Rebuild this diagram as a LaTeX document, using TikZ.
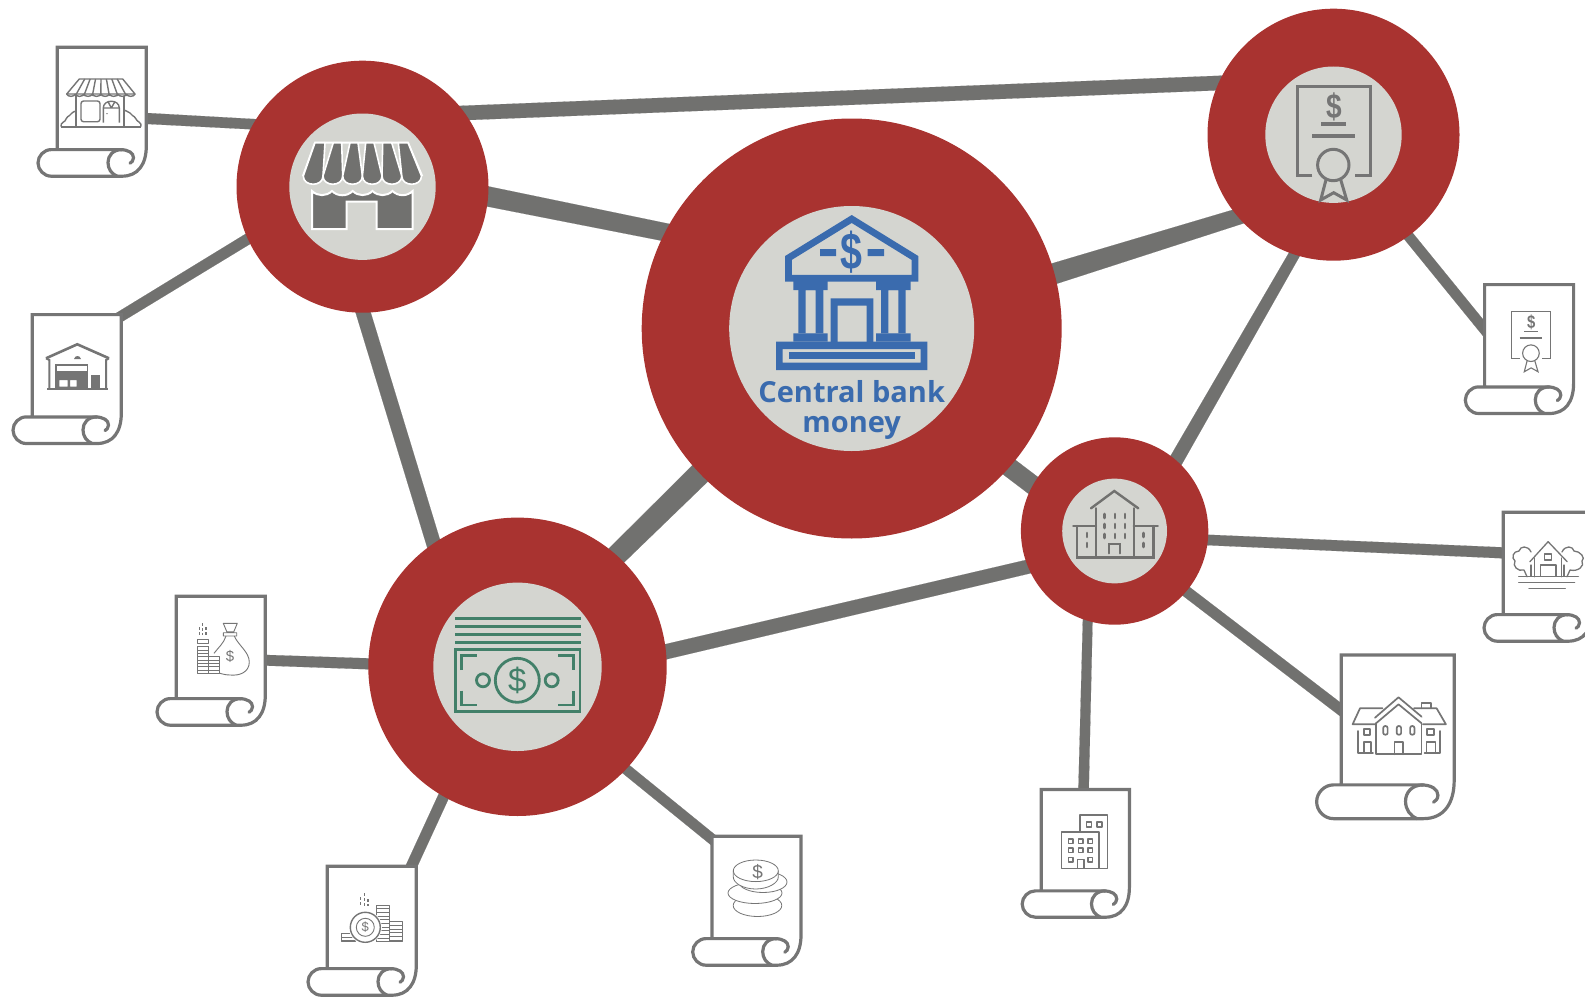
\documentclass[tikz,border=0pt]{standalone}
\usepackage{fontspec}
\setmainfont{Open Sans}
\newfontfamily\dlr{Liberation Sans}
\usetikzlibrary{calc,backgrounds}
\definecolor{nodered}{HTML}{A93330}
\definecolor{disc}{HTML}{D4D5D0}
\definecolor{linkgrey}{HTML}{71716F}
\definecolor{scrollgrey}{HTML}{757575}
\definecolor{bankblue}{HTML}{3A6BAE}
\definecolor{billgreen}{HTML}{428069}
\tikzset{
  x=1pt,y=-1pt,
  redcircle/.style={circle,fill=nodered,inner sep=0pt,minimum size=#1},
  disccircle/.style={circle,fill=disc,inner sep=0pt,minimum size=#1},
  pagebox/.style 2 args={rectangle,inner sep=0pt,anchor=north west,minimum width=#1,minimum height=#2},
  conn/.style={fill=linkgrey,draw=linkgrey,line width=0.1pt},
  scrollline/.style={draw=scrollgrey,line width=3.2pt,line join=miter,line cap=round},
  ico/.style={draw=scrollgrey,line width=1.4pt,line join=round,fill=none},
  icon/.style={draw=scrollgrey,line width=0.9pt,line join=round,fill=none},
  blue/.style={draw=bankblue,line width=6.8pt,line join=miter},
  bluefill/.style={fill=bankblue},
  grn/.style={draw=billgreen,line width=2.8pt,line join=miter},
}
\newcommand\link[6]{%
  \coordinate (LA) at ($(#1)+(#2)$);
  \coordinate (LB) at ($(#4)+(#5)$);
  \coordinate (LP) at ($(LA)!-6pt!(LB)$);
  \coordinate (LQ) at ($(LB)!-6pt!(LA)$);
  \draw[conn] ($(LP)!#3pt/2!90:(LQ)$) -- ($(LQ)!#6pt/2!-90:(LP)$) -- ($(LQ)!#6pt/2!90:(LP)$) -- ($(LP)!#3pt/2!-90:(LQ)$) -- cycle;
}
\newcommand\scroll[4]{% name,x,y,scale
  \node[pagebox={#4*90.7pt}{#4*102.3pt}] (#1) at (#2,#3) {};
  \begin{scope}[shift={(#2,#3)},scale=#4]
    \fill[white] (1.3,103.6) -- (1.3,1.3) -- (90.3,1.3) -- (90.3,100) .. controls (90.3,118.5) and (82,130.2) .. (66,130.2) -- (-4.7,130.2) .. controls (-12,130.2) and (-18,124) .. (-18,116.9) .. controls (-18,109.8) and (-12,103.6) .. (-4.7,103.6) -- cycle;
    \draw[scrollline] (1.3,103.6) -- (1.3,1.3) -- (90.3,1.3) -- (90.3,100) .. controls (90.3,118.5) and (82,130.2) .. (66,130.2) -- (-4.7,130.2) .. controls (-12,130.2) and (-18,124) .. (-18,116.9) .. controls (-18,109.8) and (-12,103.6) .. (-4.7,103.6) -- (64,103.6) .. controls (72.5,103.6) and (77.5,107) .. (77.5,111.8) .. controls (77.5,114.5) and (75.7,116.3) .. (74,117.3);
    \draw[scrollline] (66,103.6) .. controls (57,103.6) and (52,109.5) .. (52,116.5) .. controls (52,123) and (55.5,127.8) .. (61,130.2);
  \end{scope}
}
% certificate icon: origin = centre x, top y of frame
\newcommand\certicon[7]{% cx, top, scale, frame lw, line thick, name, font size
  \begin{scope}[shift={(#1,#2)},scale=#3]
    \draw[draw=scrollgrey,line width=#4pt] (-21.7,88.3) -- (-36.7,88.3) -- (-36.7,0) -- (36.7,0) -- (36.7,88.3) -- (21,88.3);
    \draw[draw=scrollgrey,line width=#5pt] (-13,37) -- (12,37);
    \draw[draw=scrollgrey,line width=#5pt] (-22,49.3) -- (21,49.3);
    \draw[draw=scrollgrey,line width=#4pt] (-0.7,78.3) circle[radius=15.7];
    \draw[draw=scrollgrey,line width=#4pt,line join=miter] (-8,93) -- (-13.3,113.3) -- (-0.3,106) -- (12.7,113.3) -- (6.7,93);
  \end{scope}
  \node[text=scrollgrey,inner sep=0pt,font=\dlr\bfseries\fontsize{#7}{#7}\selectfont] (#6) at (#1,{#2+#3*20}) {\scalebox{0.85}[1.05]{\$}};
}
\begin{document}
\begin{tikzpicture}
\useasboundingbox (0,0) rectangle (1585,998);
% hubs
\node[redcircle=420pt] (C) at (851.7,328.5) {};
\node[redcircle=252pt] (St) at (362.5,186.7) {};
\node[redcircle=252pt] (T) at (1333.5,134.7) {};
\node[redcircle=298.4pt] (M) at (517.5,666.8) {};
\node[redcircle=187.4pt] (B) at (1114.6,531) {};
\node[disccircle=245pt] (Cd) at (C) {};
\node[disccircle=146.4pt] (Std) at (St) {};
\node[disccircle=136.4pt] (Td) at (T) {};
\node[disccircle=168.4pt] (Md) at (M) {};
\node[disccircle=104.8pt] (Bd) at (B) {};
% scrolls
\scroll{s1}{56}{46}{1}
\scroll{s2}{31}{313.3}{1}
\scroll{s3}{1483.3}{283.3}{1}
\scroll{s4}{175}{595}{1}
\scroll{s5}{326}{865}{1}
\scroll{s6}{710.7}{835}{1}
\scroll{s7}{1040}{788.3}{0.99}
\scroll{s8}{1339.5}{653.3}{1.27}
\scroll{s9}{1502}{511}{1}
% connectors
\begin{pgfonlayer}{background}
\link{s1.north west}{91,72.5}{11}{St}{-107.5,-62.4}{10.4}
\link{s2.north west}{88.3,4}{10.5}{St}{-115.2,52.6}{11}
\link{St}{100.5,-73.7}{14.5}{T}{-113.5,-51.7}{14.5}
\link{St}{125.5,9.8}{20}{C}{-187.7,-96.5}{18}
\link{C}{201.3,-54.5}{21}{T}{-96.5,82.3}{16}
\link{C}{-152.2,145.5}{22.5}{M}{99.5,-111.8}{20.5}
\link{C}{157.3,138.5}{19}{B}{-81.9,-46}{19}
\link{T}{-39.5,120.3}{11}{B}{62.2,-72}{14}
\link{T}{75.5,102}{10.5}{s3.north west}{0,44.7}{10.5}
\link{s4.north west}{91.7,65.3}{10.7}{M}{-149.5,-3}{11}
\link{M}{-74.5,130.9}{11}{s5.north west}{86,0}{11}
\link{M}{109.5,103.2}{10.5}{s6.north west}{0,3}{10.5}
\link{M}{148.2,-15}{15}{B}{-87.9,36}{14}
\link{B}{93.4,9}{10.5}{s9.north west}{0,41.8}{11}
\link{B}{72,60.7}{11}{s8.north west}{0,55.5}{11}
\link{B}{-26.9,89}{9.7}{s7.north west}{43.6,0}{10.4}
\link{St}{0.5,125.3}{14.5}{M}{-85,-126.8}{14.5}
\end{pgfonlayer}
% central bank icon
\draw[blue] (788.4,278.3) -- (788.4,258) -- (851.7,219) -- (915,258) -- (915,278.3) -- cycle;
\fill[bluefill] (793.3,281) rectangle (827.7,290) (876,281) rectangle (910.7,290)
  (793.3,333.3) rectangle (827.7,341.7) (876,333.3) rectangle (910.7,341.7);
\fill[bluefill,even odd rule] (798.3,290) rectangle (823.3,333.3) (805.7,290) rectangle (815.7,333.3);
\fill[bluefill,even odd rule] (881,290) rectangle (905.7,333.3) (888.3,290) rectangle (898.3,333.3);
\fill[bluefill] (820,249.2) rectangle (836,256.2) (867.7,249.2) rectangle (884,256.2);
\fill[bluefill,even odd rule] (830.7,298.3) rectangle (873.3,343) (837.7,305.7) rectangle (866.7,343);
\fill[bluefill,even odd rule] (776,341.7) rectangle (927.3,370) (782.7,349) rectangle (920.7,362.7);
\fill[bluefill] (789,352.3) rectangle (915,359.3);
\node[text=bankblue,inner sep=0pt,font=\dlr\bfseries\fontsize{48}{48}\selectfont] (cbd) at (851.7,251.7) {\scalebox{0.82}[1.08]{\$}};
\node[text=bankblue,inner sep=0pt,align=center,font=\bfseries\fontsize{29}{30}\selectfont] (cbt) at (851.7,409.5) {Central bank\\money};
% store icon
\draw[white,line width=2pt,fill=disc] (315,142.7) -- (408,142.7) -- (421.7,175) -- (303.3,175) -- cycle;
\foreach \ta/\tb/\ba/\bb in {315/325/303.3/323,333.3/341.7/323/342.7,350/358/342.7/362.4,365.7/374/362.4/382,382.7/391.7/382/401.8,398.3/408/401.8/421.5}{
  \draw[white,line width=1.6pt,fill=linkgrey,line join=round] (\ta,142.7) -- (\tb,142.7) -- (\bb,176) .. controls (\bb,187) and (\ba,187) .. (\ba,176) -- cycle;
}
\draw[white,line width=2pt,fill=linkgrey,line join=miter] (312,229) -- (312,191) to[bend right=45] (332,191) to[bend right=45] (352.7,191) to[bend right=45] (372.5,191) to[bend right=45] (392.5,191) to[bend right=45] (412.7,191) -- (412.7,229) -- (376.7,229) -- (376.7,201.7) -- (346.7,201.7) -- (346.7,229) -- cycle;
% certificate icons
\certicon{1334}{86.7}{1}{3}{4}{td}{33}
\certicon{1531.3}{311.7}{0.53}{1.1}{1.4}{s3d}{17.5}
% money icon
\foreach \y in {618.3,626.3,634.3,642.3}{\draw[draw=billgreen,line width=3pt] (455,\y) -- (581,\y);}
\draw[grn] (455.7,649.3) rectangle (580,711.7);
\draw[grn] (517.3,680.3) circle[radius=22];
\draw[grn] (483,680.3) circle[radius=6.5];
\draw[grn] (551.7,680.3) circle[radius=6.5];
\draw[grn] (461.7,670) -- (461.7,655.7) -- (476.7,655.7);
\draw[grn] (558.3,655.7) -- (573.3,655.7) -- (573.3,670);
\draw[grn] (461.7,690.5) -- (461.7,705) -- (476.7,705);
\draw[grn] (558.3,705) -- (573.3,705) -- (573.3,690.5);
\node[text=billgreen,inner sep=0pt,font=\dlr\fontsize{33}{33}\selectfont] (md) at (517.3,680.3) {\$};
% bank building icon
\begin{scope}[draw=linkgrey,line width=2.4pt,line cap=round]
\draw (1091,508.3) -- (1114.3,491) -- (1138.3,508.3);
\draw (1096,508.3) -- (1096,557.3);
\draw (1133.7,508.3) -- (1133.7,557.3);
\draw (1073.3,526) -- (1096,526);
\draw (1133.7,526) -- (1157.7,526);
\draw (1076.7,526) -- (1076.7,557.3) -- (1153.3,557.3) -- (1153.3,526);
\draw (1109,553.3) -- (1109,544) -- (1120,544) -- (1120,553.3);
\foreach \x in {1104.3,1115,1125}{\foreach \y in {516,526,536}{\draw[line width=2.6pt] (\x,\y-2) -- (\x,\y+2);}}
\foreach \x in {1087,1143.3}{\foreach \y in {535,545}{\draw[line width=2.6pt] (\x,\y-2) -- (\x,\y+2);}}
\end{scope}
% s1 small store
\draw[ico] (79.3,79) -- (122.7,79) -- (135,94) -- (66.7,94) -- cycle;
\foreach \i in {0,...,7}{\draw[ico] ({66.7+8.54*\i},94) to[bend right=70] ({66.7+8.54*(\i+1)},94);}
\foreach \i in {1,...,7}{\draw[ico] ({79.3+5.42*\i},79) -- ({66.7+8.54*\i},96);}
\draw[ico] (76,96) -- (76,126.7) (124,96) -- (124,126.7);
\draw[ico,line width=1.6pt] (61,126.7) -- (141,126.7);
\draw[ico,rounded corners=2.5pt] (81,101) rectangle (100,121.7);
\draw[ico] (103.3,122.7) -- (103.3,108) .. controls (103.3,99) and (119.3,99) .. (119.3,108) -- (119.3,122.7);
\draw[ico] (103.3,108) -- (119.3,108) (108,101.5) -- (111.3,108) -- (115,101.5) (107,113) -- (107,114);
\draw[ico] (61,126.7) .. controls (60,122) and (66,122) .. (66,119) .. controls (68,115) and (71,116) .. (72,113) .. controls (73,110) and (76,112) .. (76,112);
\draw[ico] (141,126.7) .. controls (142,122) and (137,122) .. (136,119) .. controls (134,115) and (131,116) .. (130,113) .. controls (128,110) and (125,112) .. (124,110);
% s2 warehouse
\draw[draw=scrollgrey,line width=2.6pt,line join=miter] (46,358.3) -- (77.3,344.3) -- (109,358.3);
\draw[draw=scrollgrey,line width=2pt] (46,358.3) -- (49.3,360) -- (49.3,388.3);
\draw[draw=scrollgrey,line width=2pt] (109,358.3) -- (106,360) -- (106,388.3);
\draw[draw=scrollgrey,line width=2.2pt] (47.3,389) -- (107.7,389);
\fill[scrollgrey] (74,359) .. controls (75,355) and (80,355) .. (81,359) -- cycle;
\draw[draw=scrollgrey,line width=1.6pt] (56,388) -- (56,365) -- (87.3,365) -- (87.3,388);
\fill[scrollgrey,even odd rule] (56,371) rectangle (87.3,388.5) (59.3,380) rectangle (67.7,386.7) (70,380) rectangle (76.7,386.7);
\fill[scrollgrey] (91,375) rectangle (100,388);
% s4 bag and coins
\foreach \y in {646.7,650,653.3,656.7,660,663.3,666.7,670,673.3}{\draw[icon] (197.7,\y) -- (208.7,\y);}
\foreach \y in {656.7,660,663.3,666.7,670,673.3}{\draw[icon] (208.7,\y) -- (219.3,\y);}
\draw[icon] (197.7,646.7) rectangle (208.7,673.3) (208.7,656.7) rectangle (219.3,673.3) (197.7,639) rectangle (208.7,643);
\draw[icon,line width=1.3pt,densely dashed] (199.3,627) -- (199.3,635) (202.7,623) -- (202.7,635) (206,627) -- (206,635);
\draw[icon] (223.3,623.3) -- (237.3,623.3) -- (233.8,631.7) -- (226.8,631.7) -- cycle (223.3,632.7) rectangle (236.7,636);
\draw[icon] (226,636) .. controls (224,643) and (218,648) .. (214,653.3);
\draw[icon] (234.3,636) .. controls (238,645) and (249.3,652) .. (249.3,662) .. controls (249.3,672) and (240,676) .. (230,675) .. controls (226,675) and (222,674) .. (219.3,673);
\node[text=scrollgrey,inner sep=0pt,font=\dlr\fontsize{15}{15}\selectfont] (s4d) at (230,656) {\$};
% s5 coin and stacks
\foreach \xa/\wd/\tp/\n in {376/13.3/905/10,389.3/13/921.7/5,341.7/13.3/933.3/2}{
  \draw[icon] (\xa,\tp) rectangle (\xa+\wd,941.7);
  \foreach \k in {1,...,\n}{\draw[icon] (\xa,{\tp+3.67*\k}) -- (\xa+\wd,{\tp+3.67*\k});}
}
\fill[white] (365.3,927.3) circle[radius=16.5];
\draw[ico] (365.3,927.3) circle[radius=15];
\draw[icon] (365.3,927.3) circle[radius=9];
\node[text=scrollgrey,inner sep=0pt,font=\dlr\fontsize{13}{13}\selectfont] (s5d) at (365.3,927.3) {\$};
\draw[icon,line width=1.3pt,densely dashed] (360.7,897) -- (360.7,906) (364.3,893) -- (364.3,906) (368,899) -- (368,906);
% s6 stacked coins
\begin{scope}[draw=scrollgrey,line width=0.8pt]
\draw[fill=white] (757.5,905.5) ellipse[x radius=24.3,y radius=11];
\draw[fill=white] (755,893) ellipse[x radius=27,y radius=10.5];
\draw[fill=white] (763,882) ellipse[x radius=24,y radius=10.5];
\draw[fill=white] (733.3,871) -- (733.3,877) .. controls (733.3,883) and (743,889) .. (755.8,889) .. controls (768,889) and (778.3,883) .. (778.3,877) -- (778.3,871) -- cycle;
\draw[fill=white] (755.8,870.8) ellipse[x radius=22.5,y radius=10.8];
\end{scope}
\node[text=scrollgrey,inner sep=0pt,font=\dlr\fontsize{19}{19}\selectfont] (s6d) at (757.7,872) {\$};
% s7 buildings
\begin{scope}[draw=scrollgrey,line width=1.6pt,line join=round]
\draw (1080.2,831) -- (1080.2,815) -- (1107.5,815) -- (1107.5,868.3) -- (1099,868.3);
\draw (1061.6,831.7) rectangle (1098.9,868.3);
\draw (1086.3,821.8) rectangle (1091.3,826.8) (1096.8,821.8) rectangle (1101.8,826.8);
\foreach \x/\y in {1070.9/841,1080.6/841,1090.3/841,1070.9/850.3,1080.6/850.3,1090.3/850.3,1070.9/859.7,1090.3/859.7}{\draw (\x-2.3,\y-2.3) rectangle (\x+2.3,\y+2.3);}
\draw (1077.6,868.3) -- (1077.6,859.3) -- (1084,859.3) -- (1084,868.3);
\end{scope}
% s8 house
\begin{scope}[draw=scrollgrey,line width=1.7pt,line join=round,line cap=round]
\draw (1375,717.7) -- (1398.5,697.3) -- (1421.6,716.7);
\draw (1376,723.3) -- (1398.5,704.3) -- (1421.6,723.3);
\draw (1376,723.3) -- (1376,754.3) -- (1421.6,754.3) -- (1421.6,723.3);
\draw (1394.4,754.3) -- (1394.4,741.7) -- (1403,741.7) -- (1403,754.3);
\foreach \x in {1385.4,1398.9,1412.3}{\draw (\x-2.2,728) .. controls (\x-2.2,725.3) and (\x+2.2,725.3) .. (\x+2.2,728) -- (\x+2.2,733) .. controls (\x+2.2,735.3) and (\x-2.2,735.3) .. (\x-2.2,733) -- cycle;}
\draw (1382.5,708.3) -- (1360,708.3) -- (1352.6,724.3) -- (1375,724.3);
\draw (1414,708.3) -- (1436.6,708.3) -- (1445.9,724.3) -- (1423,724.3);
\draw (1421.6,708.3) -- (1421.6,703.3) -- (1431,703.3) -- (1431,708.3);
\draw (1358,731) -- (1358,752.7) -- (1373,752.7);
\draw (1440.3,731) -- (1440.3,752.7) -- (1424.6,752.7);
\draw (1363.8,729.3) rectangle (1370.2,735) (1427,729.3) rectangle (1434,735);
\draw (1363.8,752.7) -- (1363.8,741.7) -- (1371.3,741.7) -- (1371.3,752.7);
\draw (1426.4,752.7) -- (1426.4,741.7) -- (1435.4,741.7) -- (1435.4,752.7);
\end{scope}
% s9 house and trees
\begin{scope}[draw=scrollgrey,line width=1.3pt,line join=round,line cap=round]
\draw (1529.9,561.7) -- (1548.1,541.7) -- (1567.2,561.7);
\draw (1544.8,554) rectangle (1551.5,560);
\draw (1534.3,558) -- (1534.3,576.7) (1561.6,558) -- (1561.6,576.7);
\draw (1540.3,565) rectangle (1556,576.7);
\draw (1518.7,582.7) -- (1574.6,582.7) (1529,588.3) -- (1565.3,588.3);
\draw (1518.7,576.7) -- (1578.4,576.7);
\draw (1531,552) .. controls (1528,545) and (1520,546) .. (1519,551) .. controls (1513,551) and (1511,558) .. (1515,561) .. controls (1512,566) and (1518,572) .. (1524,570) -- (1527,576.7);
\draw (1531,576) -- (1531,565);
\draw (1562,552) .. controls (1565,545) and (1573,546) .. (1574,551) .. controls (1580,551) and (1586,558) .. (1582,561) .. controls (1585,566) and (1578,572) .. (1570,570) -- (1567,576.7);
\draw (1564,576) -- (1564,565);
\end{scope}
\end{tikzpicture}
\end{document}
